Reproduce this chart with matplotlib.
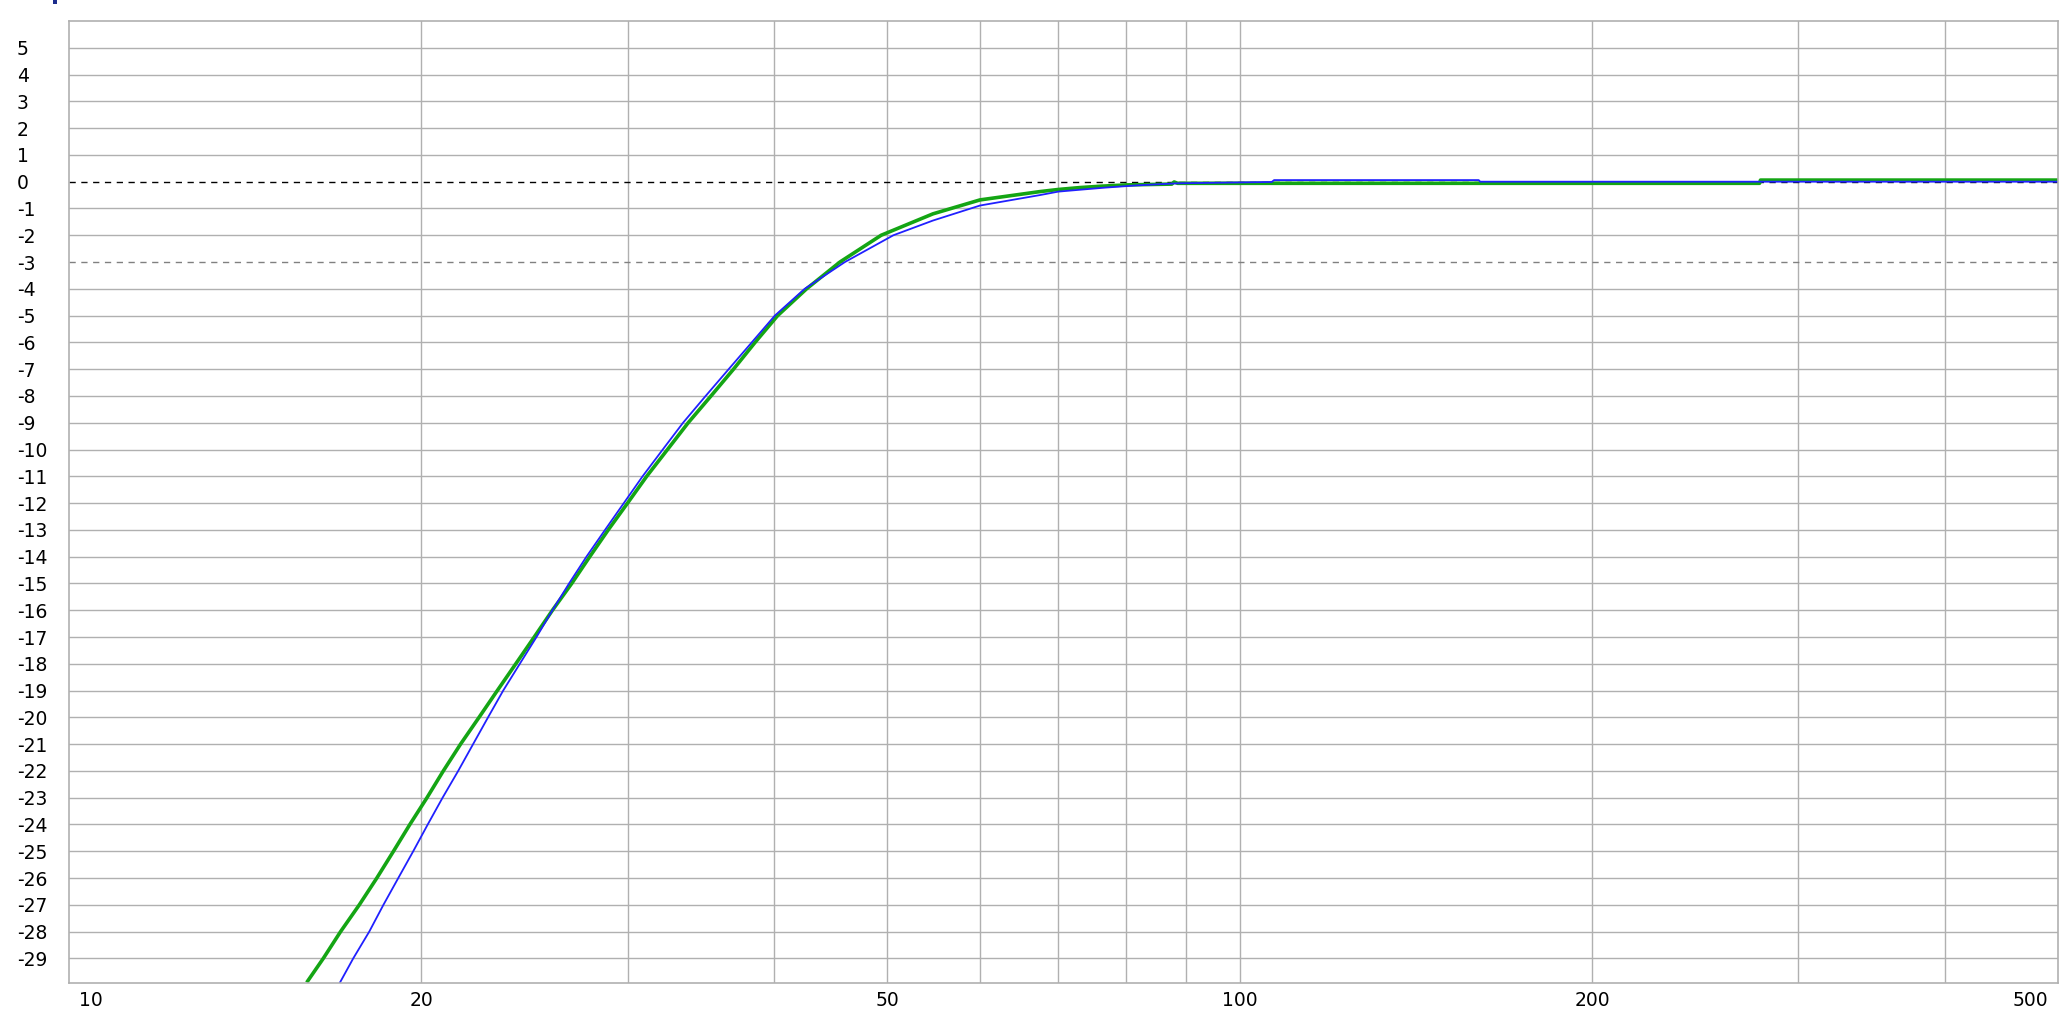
import matplotlib
matplotlib.use("Agg")
import matplotlib.pyplot as plt
import matplotlib.transforms as mtransforms
from matplotlib.patches import Rectangle
from matplotlib.ticker import NullLocator

# ---------------- data ----------------
green_freq = [15.96, 16.49, 17.06, 17.7, 18.32, 18.93, 19.55, 20.22, 20.88, 21.6,
              22.4, 23.22, 24.08, 24.97, 25.88, 26.88, 27.85, 28.88, 30.0, 31.15,
              32.45, 33.8, 35.35, 36.95, 38.55, 40.3, 42.66, 45.55, 49.4, 54.7,
              60.0, 67.5, 70.0, 73.0, 76.0, 80.0, 87.5, 87.9, 88.5, 278.0,
              278.5, 500.0]
green_db = [-29.9, -29, -28, -27, -26, -25, -24, -23, -22, -21,
            -20, -19, -18, -17, -16, -15, -14, -13, -12, -11,
            -10, -9, -8, -7, -6, -5, -4, -3, -2, -1.2,
            -0.68, -0.37, -0.29, -0.22, -0.17, -0.12, -0.09, -0.01, -0.06, -0.06,
            0.06, 0.06]

blue_freq = [17.04, 17.49, 18.05, 18.56, 19.11, 19.68, 20.25, 20.85, 21.5, 22.14,
             22.8, 23.49, 24.27, 25.08, 25.88, 26.74, 27.67, 28.7, 29.78, 30.9,
             32.15, 33.46, 34.98, 36.6, 38.3, 40.08, 42.5, 46.0, 50.6, 54.7,
             60.0, 67.5, 70.0, 73.5, 76.8, 81.5, 88.5, 106.5, 107.0, 160.0,
             160.5, 500.0]
blue_db = [-29.9, -29, -28, -27, -26, -25, -24, -23, -22, -21,
           -20, -19, -18, -17, -16, -15, -14, -13, -12, -11,
           -10, -9, -8, -7, -6, -5, -4, -3, -2, -1.45,
           -0.89, -0.5, -0.37, -0.29, -0.22, -0.14, -0.06, -0.01, 0.06, 0.06,
           0.0, 0.0]

x_grid = [20, 30, 40, 50, 60, 70, 80, 90, 100, 200, 300, 400]
x_label_vals = [10, 20, 50, 100, 200, 500]
x_labels = ["10", "20", "50", "100", "200", "500"]
y_ticks = list(range(5, -30, -1))
y_labels = [str(v) for v in y_ticks]

# ---------------- figure ----------------
W, H = 2070, 1030
DPI = 100
fig = plt.figure(figsize=(W / DPI, H / DPI), dpi=DPI)
fig.patch.set_facecolor("white")
L, R, T, B = 69, 2058, 21, 982.5
ax = fig.add_axes([L / W, 1 - B / H, (R - L) / W, (B - T) / H])
ax.set_xscale("log")
ax.set_xlim(10, 500)
ax.set_ylim(-29.9, 6)

grid_color = "#b0b0b0"
for v in x_grid:
    ax.axvline(v, color=grid_color, lw=1.0, zorder=1)
for v in y_ticks:
    if v in (0, -3):
        continue
    ax.axhline(v, color=grid_color, lw=1.0, zorder=1)
ax.axhline(0, color="black", lw=1.0, ls=(0, (4.5, 4)), zorder=2)
ax.axhline(-3, color="#808080", lw=1.0, ls=(0, (4.5, 4)), zorder=2)

ax.plot(green_freq, green_db, color="#14a514", lw=2.6, zorder=3,
        solid_capstyle="butt")
ax.plot(blue_freq, blue_db, color="#2020ff", lw=1.3, zorder=4)

for s in ax.spines.values():
    s.set_color(grid_color)
    s.set_linewidth(1.2)
    s.set_zorder(5)

FS = 13.5
# x ticks
ax.set_xticks(x_label_vals, x_labels)
ax.xaxis.set_minor_locator(NullLocator())
ax.tick_params(axis="x", length=0, pad=6, labelsize=FS, labelcolor="black")
xl = ax.get_xticklabels()
xl[0].set_ha("left")
xl[0].set_transform(xl[0].get_transform() +
                    mtransforms.ScaledTranslation(10 / DPI, 0, fig.dpi_scale_trans))
xl[-1].set_ha("right")
xl[-1].set_transform(xl[-1].get_transform() +
                     mtransforms.ScaledTranslation(-10 / DPI, 0, fig.dpi_scale_trans))

# y ticks
ax.set_yticks(y_ticks, y_labels)
ax.yaxis.set_minor_locator(NullLocator())
ax.tick_params(axis="y", length=0, pad=(L - 17) / DPI * 72, labelsize=FS,
               labelcolor="black")
for lbl in ax.get_yticklabels():
    lbl.set_ha("left")

# small cut-off title mark at top-left
fig.add_artist(Rectangle((53 / W, 1 - 3.5 / H), 4 / W, 3.5 / H,
                         transform=fig.transFigure, color="#1c2c8c", lw=0))

fig.savefig("out.png", dpi=DPI, facecolor="white")
